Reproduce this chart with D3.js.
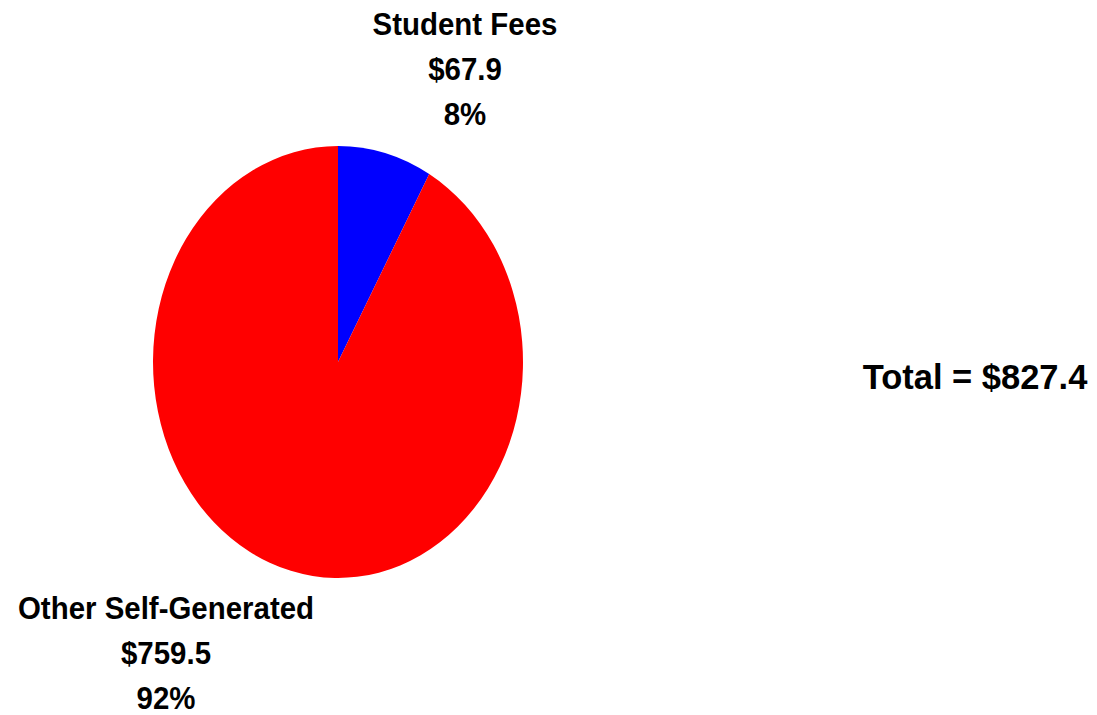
<!DOCTYPE html>
<html>
<head>
<meta charset="utf-8">
<script src="https://cdn.jsdelivr.net/npm/d3@7"></script>
<style>
  body { margin: 0; background: #fff; }
  text { font-family: "Liberation Sans", Arial, sans-serif; font-weight: bold; fill: #000; }
</style>
</head>
<body>
<div id="chart"></div>
<script>
'use strict';

// data
const categories = ["Student Fees", "Other Self-Generated"];
const amounts = [67.9, 759.5];
const percentLabels = ["8%", "92%"];
const colors = ["#0000ff", "#ff0000"];
const totalLabel = "Total = $827.4";

const width = 1097, height = 715;

// pie is drawn a bit taller than wide, like the original
const cx = 338, cy = 362, rx = 185, ry = 216;

// label anchors relative to pie centre (x centre, first baseline)
const labelPos = [
  {x: 127, y: -327},
  {x: -172, y: 257}
];
const lineGap = 45;

const svg = d3.select("#chart").append("svg")
  .attr("width", width)
  .attr("height", height);

const data = categories.map((c, i) => ({name: c, value: amounts[i], pct: percentLabels[i], color: colors[i]}));

const pie = d3.pie().sort(null).value(d => d.value);
const arc = d3.arc().innerRadius(0).outerRadius(ry);

const g = svg.append("g")
  .attr("transform", `translate(${cx},${cy})`);

g.append("g")
  .attr("transform", `scale(${rx / ry},1)`)
  .selectAll("path")
  .data(pie(data))
  .join("path")
  .attr("d", arc)
  .attr("fill", d => d.data.color);

//labels: name, amount, percent
const labels = g.selectAll("g.label")
  .data(data)
  .join("g")
  .attr("class", "label")
  .attr("transform", (d, i) => `translate(${labelPos[i].x},${labelPos[i].y}) scale(0.95,1)`);

labels.each(function(d){
  const lines = [d.name, "$" + d3.format(".1f")(d.value), d.pct];
  d3.select(this).selectAll("text")
    .data(lines)
    .join("text")
    .attr("text-anchor", "middle")
    .attr("y", (l, j) => j * lineGap)
    .attr("font-size", 31)
    .text(l => l);
});

svg.append("text")
  .attr("x", 975)
  .attr("y", 389)
  .attr("text-anchor", "middle")
  .attr("font-size", 34.5)
  .text(totalLabel);
</script>
</body>
</html>
